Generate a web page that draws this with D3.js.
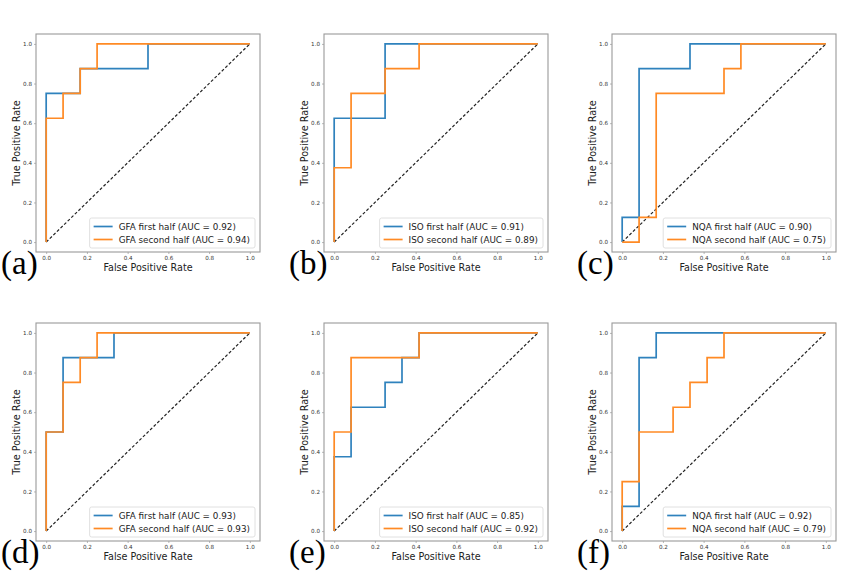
<!DOCTYPE html>
<html>
<head>
<meta charset="utf-8">
<script src="https://cdn.jsdelivr.net/npm/d3@7"></script>
<style>
  body { margin: 0; background: #fff; }
  .tick text { font-family: "DejaVu Sans", sans-serif; font-size: 5.6px; fill: #333; }
  .axisLabel { font-family: "DejaVu Sans", sans-serif; font-size: 9.6px; fill: #222; }
  .legendText { font-family: "DejaVu Sans", sans-serif; font-size: 8.8px; fill: #222; }
  .panelLabel { font-family: "Liberation Serif", "Times New Roman", serif; font-size: 33px; fill: #000; }
</style>
</head>
<body>
<div id="chart"></div>
<script>
var svgWidth = 864;
var svgHeight = 575;

// ROC curves (fpr / tpr step points)
var gfaFirstA = { fpr: [0, 0, 0.167, 0.167, 0.5, 0.5, 1], tpr: [0, 0.75, 0.75, 0.875, 0.875, 1, 1] };
var gfaSecondA = { fpr: [0, 0, 0.083, 0.083, 0.167, 0.167, 0.25, 0.25, 1], tpr: [0, 0.625, 0.625, 0.75, 0.75, 0.875, 0.875, 1, 1] };

var isoFirstB = { fpr: [0, 0, 0.25, 0.25, 1], tpr: [0, 0.625, 0.625, 1, 1] };
var isoSecondB = { fpr: [0, 0, 0.083, 0.083, 0.25, 0.25, 0.417, 0.417, 1], tpr: [0, 0.375, 0.375, 0.75, 0.75, 0.875, 0.875, 1, 1] };

var nqaFirstC = { fpr: [0, 0, 0.083, 0.083, 0.333, 0.333, 1], tpr: [0, 0.125, 0.125, 0.875, 0.875, 1, 1] };
var nqaSecondC = { fpr: [0, 0.083, 0.083, 0.167, 0.167, 0.5, 0.5, 0.583, 0.583, 1], tpr: [0, 0, 0.125, 0.125, 0.75, 0.75, 0.875, 0.875, 1, 1] };

var gfaFirstD = { fpr: [0, 0, 0.083, 0.083, 0.333, 0.333, 1], tpr: [0, 0.5, 0.5, 0.875, 0.875, 1, 1] };
var gfaSecondD = { fpr: [0, 0, 0.083, 0.083, 0.167, 0.167, 0.25, 0.25, 1], tpr: [0, 0.5, 0.5, 0.75, 0.75, 0.875, 0.875, 1, 1] };

var isoFirstE = { fpr: [0, 0, 0.083, 0.083, 0.25, 0.25, 0.333, 0.333, 0.417, 0.417, 1], tpr: [0, 0.375, 0.375, 0.625, 0.625, 0.75, 0.75, 0.875, 0.875, 1, 1] };
var isoSecondE = { fpr: [0, 0, 0.083, 0.083, 0.417, 0.417, 1], tpr: [0, 0.5, 0.5, 0.875, 0.875, 1, 1] };

var nqaFirstF = { fpr: [0, 0, 0.083, 0.083, 0.167, 0.167, 1], tpr: [0, 0.125, 0.125, 0.875, 0.875, 1, 1] };
var nqaSecondF = { fpr: [0, 0, 0.083, 0.083, 0.25, 0.25, 0.333, 0.333, 0.417, 0.417, 0.5, 0.5, 1], tpr: [0, 0.25, 0.25, 0.5, 0.5, 0.625, 0.625, 0.75, 0.75, 0.875, 0.875, 1, 1] };

var panelLetters = ["(a)", "(b)", "(c)", "(d)", "(e)", "(f)"];
var firstCurves = [gfaFirstA, isoFirstB, nqaFirstC, gfaFirstD, isoFirstE, nqaFirstF];
var secondCurves = [gfaSecondA, isoSecondB, nqaSecondC, gfaSecondD, isoSecondE, nqaSecondF];
var firstNames = ["GFA first half (AUC = 0.92)", "ISO first half (AUC = 0.91)", "NQA first half (AUC = 0.90)",
                  "GFA first half (AUC = 0.93)", "ISO first half (AUC = 0.85)", "NQA first half (AUC = 0.92)"];
var secondNames = ["GFA second half (AUC = 0.94)", "ISO second half (AUC = 0.89)", "NQA second half (AUC = 0.75)",
                   "GFA second half (AUC = 0.93)", "ISO second half (AUC = 0.92)", "NQA second half (AUC = 0.79)"];
var tickValues = [0, 0.2, 0.4, 0.6, 0.8, 1.0];

// layout
var colLeft = [36, 324, 612];
var rowTop = [34, 323];
var frameW = 224;
var frameH = 218;
var blue = "#2f82bd";
var orange = "#ff8a24";

var svg = d3.select("#chart")
    .append("svg")
    .attr("width", svgWidth)
    .attr("height", svgHeight);

panelLetters.forEach(function(letter, i) {
    var left = colLeft[i % 3];
    var top = rowTop[Math.floor(i / 3)];

    var x = d3.scaleLinear().domain([-0.05, 1.05]).range([0, frameW]);
    var y = d3.scaleLinear().domain([-0.05, 1.05]).range([frameH, 0]);

    var g = svg.append("g")
        .attr("transform", `translate(${left}, ${top})`);

    // axes
    var xAxis = d3.axisBottom(x).tickValues(tickValues).tickFormat(d3.format(".1f")).tickSize(2).tickPadding(2);
    var yAxis = d3.axisLeft(y).tickValues(tickValues).tickFormat(d3.format(".1f")).tickSize(2).tickPadding(2);

    g.append("g")
        .attr("transform", `translate(0, ${frameH})`)
        .call(xAxis)
        .call(a => a.select(".domain").remove())
        .call(a => a.selectAll(".tick line").attr("stroke", "#888").attr("stroke-width", 0.6));

    g.append("g")
        .call(yAxis)
        .call(a => a.select(".domain").remove())
        .call(a => a.selectAll(".tick line").attr("stroke", "#888").attr("stroke-width", 0.6));

    // diagonal
    var line = d3.line().x(d => x(d[0])).y(d => y(d[1]));
    g.append("path")
        .attr("d", line([[0, 0], [1, 1]]))
        .attr("fill", "none")
        .attr("stroke", "#222")
        .attr("stroke-width", 1.2)
        .attr("stroke-dasharray", "3,2");

    // curves
    [[firstCurves[i], blue], [secondCurves[i], orange]].forEach(function(pair) {
        var c = pair[0];
        var pts = c.fpr.map((f, k) => [f, c.tpr[k]]);
        g.append("path")
            .attr("d", line(pts))
            .attr("fill", "none")
            .attr("stroke", pair[1])
            .attr("stroke-width", 1.7);
    });

    // frame
    g.append("rect")
        .attr("width", frameW)
        .attr("height", frameH)
        .attr("fill", "none")
        .attr("stroke", "#9a9a9a")
        .attr("stroke-width", 1.1);

    // legend
    var legend = g.append("g");
    var t1 = legend.append("text").attr("class", "legendText").attr("x", 0).attr("y", 0).text(firstNames[i]);
    var t2 = legend.append("text").attr("class", "legendText").attr("x", 0).attr("y", 13).text(secondNames[i]);
    var textW = Math.max(t1.node().getComputedTextLength(), t2.node().getComputedTextLength());
    var boxW = textW + 34;
    var boxH = 30;
    var boxX = frameW - 5 - boxW;
    var boxY = frameH - 4 - boxH;
    legend.insert("rect", "text")
        .attr("x", boxX)
        .attr("y", boxY)
        .attr("width", boxW)
        .attr("height", boxH)
        .attr("rx", 2)
        .attr("fill", "#fff")
        .attr("fill-opacity", 0.85)
        .attr("stroke", "#d8d8d8")
        .attr("stroke-width", 0.8);
    t1.attr("x", boxX + 29).attr("y", boxY + 11.5);
    t2.attr("x", boxX + 29).attr("y", boxY + 24.5);
    legend.append("line")
        .attr("x1", boxX + 4).attr("x2", boxX + 23)
        .attr("y1", boxY + 8.5).attr("y2", boxY + 8.5)
        .attr("stroke", blue).attr("stroke-width", 1.7);
    legend.append("line")
        .attr("x1", boxX + 4).attr("x2", boxX + 23)
        .attr("y1", boxY + 21.5).attr("y2", boxY + 21.5)
        .attr("stroke", orange).attr("stroke-width", 1.7);

    // axis labels
    g.append("text")
        .attr("class", "axisLabel")
        .attr("text-anchor", "middle")
        .attr("x", frameW / 2)
        .attr("y", frameH + 18.5)
        .text("False Positive Rate");

    g.append("text")
        .attr("class", "axisLabel")
        .attr("text-anchor", "middle")
        .attr("transform", `translate(-16, ${frameH / 2}) rotate(-90)`)
        .text("True Positive Rate");

    // panel letter
    svg.append("text")
        .attr("class", "panelLabel")
        .attr("x", left - 35)
        .attr("y", top + 240)
        .text(letter);
});
</script>
</body>
</html>
